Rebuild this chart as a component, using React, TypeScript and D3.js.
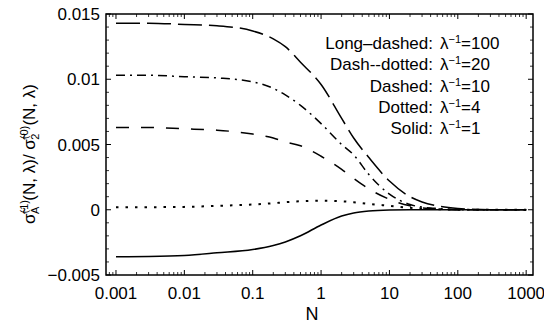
import React from 'react';
import * as d3 from 'd3';

const nValues = [0.001, 0.003, 0.01, 0.03, 0.1, 0.2, 0.3, 0.5, 1, 2, 3, 5, 10, 20, 30, 50, 100, 300, 1000];

const longDashed = [0.0143, 0.0143, 0.0142, 0.0141, 0.0137, 0.0131, 0.0125, 0.0113, 0.0096, 0.007, 0.0055, 0.004, 0.0022, 0.001, 0.0006, 0.0003, 0.0001, 0, 0];
const dashDotted = [0.0103, 0.0103, 0.0102, 0.0101, 0.0098, 0.0093, 0.0088, 0.008, 0.0066, 0.005, 0.0042, 0.0027, 0.0012, 0.0004, 0.0002, 0.0001, 0, 0, 0];
const dashed = [0.0063, 0.0063, 0.0062, 0.0061, 0.0058, 0.0055, 0.0052, 0.0049, 0.0041, 0.0031, 0.0024, 0.0016, 0.0008, 0.0003, 0.00015, 0.00005, 0, 0, 0];
const dotted = [0.0002, 0.0002, 0.00022, 0.0003, 0.0004, 0.0005, 0.00058, 0.00065, 0.0007, 0.00065, 0.00058, 0.00045, 0.0003, 0.00015, 0.0001, 0.00005, 0, 0, 0];
const solid = [-0.0036, -0.00358, -0.0035, -0.0033, -0.00305, -0.00274, -0.00247, -0.002, -0.00117, -0.00048, -0.00025, -0.0001, -0.00002, 0, 0, 0, 0, 0, 0];

const xTicks = [0.001, 0.01, 0.1, 1, 10, 100, 1000];
const xTickLabels = ['0.001', '0.01', '0.1', '1', '10', '100', '1000'];
const yTicks = [-0.005, 0, 0.005, 0.01, 0.015];
const yTickLabels = ['\u22120.005', '0', '0.005', '0.01', '0.015'];

const legendNames = ['Long\u2013dashed:', 'Dash--dotted:', 'Dashed:', 'Dotted:', 'Solid:'];
const legendValues = ['100', '20', '10', '4', '1'];

const series = [
  { values: longDashed, dash: '24,7', width: 1.5 },
  { values: dashDotted, dash: '9,5,2,5', width: 1.5 },
  { values: dashed, dash: '13,12', width: 1.5 },
  { values: dotted, dash: '2.5,7', width: 2 },
  { values: solid, dash: null, width: 1.6 },
];

const W = 544;
const H = 324;
const left = 106;
const right = 533;
const top = 14;
const bottom = 275;
const font = 'Liberation Sans, Arial, sans-serif';

export default function App() {
  const x = d3.scaleLog().domain([Math.pow(10, -3.146), Math.pow(10, 3.1)]).range([left, right]);
  const y = d3.scaleLinear().domain([-0.005, 0.015]).range([bottom, top]);

  const line = d3
    .line<number>()
    .x((_, i) => x(nValues[i]))
    .y((d) => y(d))
    .curve(d3.curveMonotoneX);

  // minor ticks
  const xMinor: number[] = [];
  for (let e = -4; e <= 3; e++) {
    for (let k = 2; k <= 9; k++) {
      const v = k * Math.pow(10, e);
      if (v > x.domain()[0] && v < x.domain()[1]) xMinor.push(v);
    }
  }
  const yMinor = d3.range(-5, 16).map((d) => d / 1000).filter((d) => Math.abs((d * 1000) % 5) > 0.01);

  const majLen = 5;
  const minLen = 3;

  return (
    <svg width={W} height={H} style={{ position: 'absolute', left: 0, top: 0, background: '#fff', fontFamily: font }}>
      {/* frame */}
      <rect x={left} y={top} width={right - left} height={bottom - top} fill="none" stroke="#000" strokeWidth={1.5} />

      {/* x ticks */}
      {xTicks.map((t) => (
        <g key={'xt' + t}>
          <line x1={x(t)} x2={x(t)} y1={bottom} y2={bottom - majLen} stroke="#000" strokeWidth={1} />
          <line x1={x(t)} x2={x(t)} y1={top} y2={top + majLen} stroke="#000" strokeWidth={1} />
        </g>
      ))}
      {xMinor.map((t) => (
        <g key={'xm' + t}>
          <line x1={x(t)} x2={x(t)} y1={bottom} y2={bottom - minLen} stroke="#000" strokeWidth={0.8} />
          <line x1={x(t)} x2={x(t)} y1={top} y2={top + minLen} stroke="#000" strokeWidth={0.8} />
        </g>
      ))}
      {/* y ticks */}
      {yTicks.map((t) => (
        <g key={'yt' + t}>
          <line x1={left} x2={left + majLen} y1={y(t)} y2={y(t)} stroke="#000" strokeWidth={1} />
          <line x1={right} x2={right - majLen} y1={y(t)} y2={y(t)} stroke="#000" strokeWidth={1} />
        </g>
      ))}
      {yMinor.map((t) => (
        <g key={'ym' + t}>
          <line x1={left} x2={left + minLen} y1={y(t)} y2={y(t)} stroke="#000" strokeWidth={0.8} />
          <line x1={right} x2={right - minLen} y1={y(t)} y2={y(t)} stroke="#000" strokeWidth={0.8} />
        </g>
      ))}

      {/* tick labels */}
      {xTicks.map((t, i) => (
        <text key={'xl' + t} x={x(t)} y={299} textAnchor="middle" fontSize={17} fill="#000">
          {xTickLabels[i]}
        </text>
      ))}
      {yTicks.map((t, i) => (
        <text key={'yl' + t} x={100} y={y(t) + 6} textAnchor="end" fontSize={17} fill="#000">
          {yTickLabels[i]}
        </text>
      ))}

      {/* axis titles */}
      <text x={312} y={320} textAnchor="middle" fontSize={18} fill="#000">N</text>
      <text transform="translate(35,154) rotate(-90)" textAnchor="middle" fontSize={17} fill="#000">
        {'\u03C3\u0303'}
        <tspan dy={-7} fontSize={11}>(1)</tspan>
        <tspan dx={-14} dy={11} fontSize={11}>A</tspan>
        <tspan dx={6} dy={-4}>(N, λ)/ {'\u03C3\u0303'}</tspan>
        <tspan dy={-7} fontSize={11}>(0)</tspan>
        <tspan dx={-14} dy={11} fontSize={11}>2</tspan>
        <tspan dx={8} dy={-4}>(N, λ)</tspan>
      </text>

      {/* curves */}
      {series.map((s, i) => (
        <path
          key={'s' + i}
          d={line(s.values) || ''}
          fill="none"
          stroke="#000"
          strokeWidth={s.width}
          strokeDasharray={s.dash || undefined}
        />
      ))}

      {/* legend */}
      {legendNames.map((name, i) => (
        <g key={'lg' + i} transform={`translate(0, ${43 + i * 21.3})`}>
          <text x={433} y={6} textAnchor="end" fontSize={17} fill="#000">
            {name}
          </text>
          <text x={440} y={6} fontSize={17} fill="#000">
            λ<tspan dy={-6} fontSize={11}>{'\u2212'}1</tspan>
            <tspan dy={6}>={legendValues[i]}</tspan>
          </text>
        </g>
      ))}
    </svg>
  );
}
